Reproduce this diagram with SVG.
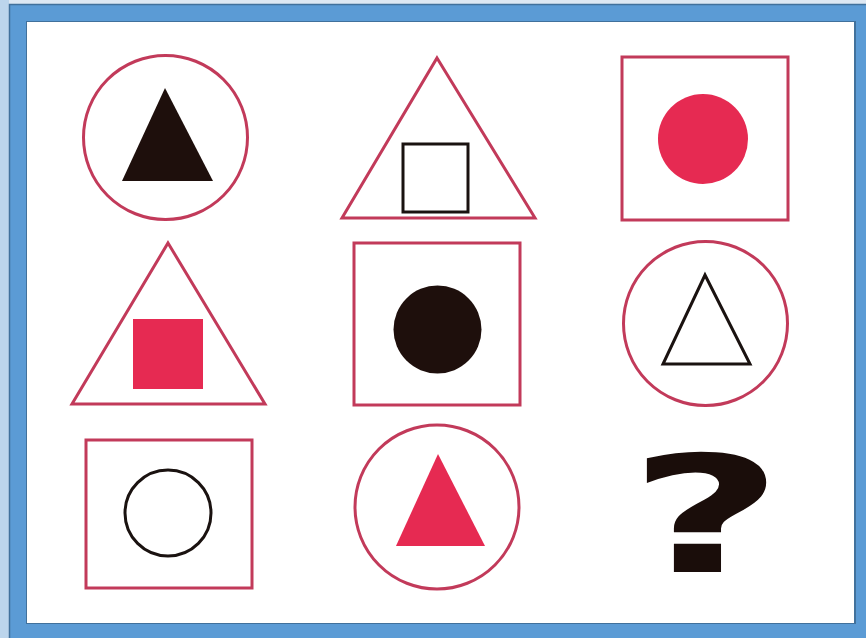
<svg xmlns="http://www.w3.org/2000/svg" width="866" height="638" viewBox="0 0 866 638">
<style>
.ro{fill:none;stroke:#c23a5a;stroke-width:3}
.bo{fill:none;stroke:#1a1210;stroke-width:3}
.rf{fill:#e62a52}
.bf{fill:#1e0f0c}
</style>
<rect x="0" y="0" width="866" height="638" fill="#dde8f3"/>
<rect x="0" y="0" width="9" height="638" fill="#bcd5ec"/>
<rect x="9" y="4" width="857" height="634" fill="#5b9bd5"/>
<path d="M9.5 638 V4.5 H866" fill="none" stroke="#41719c" stroke-width="1.5"/>
<rect x="26" y="21" width="830" height="603" fill="#41719c"/>
<rect x="27" y="22" width="827" height="601" fill="#ffffff"/>
<g id="n1"><circle class="ro" cx="165.5" cy="137.5" r="82"/><polygon class="bf" points="165,88 213,181 122,181"/></g>
<g id="n2"><polygon class="ro" points="437,58 535,218 342,218"/><rect class="bo" x="403" y="144" width="65" height="68"/></g>
<g id="n3"><rect class="ro" x="622" y="57" width="166" height="163"/><circle class="rf" cx="703" cy="139" r="45"/></g>
<g id="n4"><polygon class="ro" points="168,243 265,404 72,404"/><rect class="rf" x="133" y="319" width="70" height="70"/></g>
<g id="n5"><rect class="ro" x="354" y="243" width="166" height="162"/><circle class="bf" cx="437.5" cy="329.5" r="44"/></g>
<g id="n6"><circle class="ro" cx="705.5" cy="323.5" r="82"/><polygon class="bo" points="705,275 750,364 663,364"/></g>
<g id="n7"><rect class="ro" x="86" y="440" width="166" height="148"/><circle class="bo" cx="168" cy="513" r="43"/></g>
<g id="n8"><circle class="ro" cx="437" cy="507" r="82"/><polygon class="rf" points="438,454 485,546 396,546"/></g>
<g id="n9"><text transform="translate(706,572) scale(1.65,1)" x="0" y="0" text-anchor="middle" font-family="DejaVu Sans, sans-serif" font-weight="bold" font-size="162" fill="#1a0d0a">?</text></g>
<g id="connectors"></g>
</svg>
